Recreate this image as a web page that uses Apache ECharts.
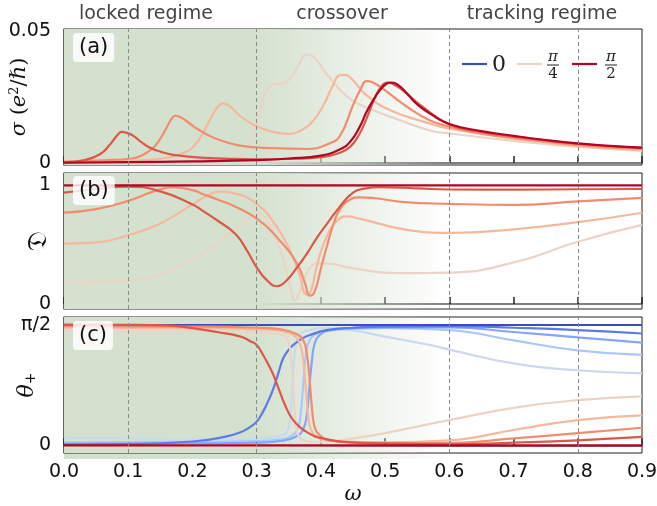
<!DOCTYPE html>
<html>
<head>
<meta charset="utf-8">
<script src="https://cdn.jsdelivr.net/npm/echarts@6/dist/echarts.min.js"></script>
<style>
  html, body { margin: 0; padding: 0; background: #fff; }
  #chart { width: 657px; height: 506px; }
</style>
</head>
<body>
<div id="chart"></div>
<script>
// omega axis ticks, shared by the three panels
var omegaTicks = [0, 0.1, 0.2, 0.3, 0.4, 0.5, 0.6, 0.7, 0.8, 0.9]
var dashedAt = [0.1, 0.3, 0.6, 0.8]
var regimeNames = ['locked regime', 'crossover', 'tracking regime']

// colours along the colormap, phi = 0 ... pi/2
var blueColors = ['#3b4cc0', '#5c7be5', '#83a6fb', '#aac7fd', '#cbd8ee']
var redColors = ['#ebd3c6', '#f6b89d', '#f08d6f', '#d95848', '#b40426']

// (a) sigma, red family only (blue ones lie underneath)
var sigma5 = [[0,0.0001],[0.2,0.0008],[0.24,0.0013],[0.265,0.002],[0.28,0.004],[0.29,0.008],[0.3,0.015],[0.31,0.024],[0.318,0.0285],[0.326,0.0298],[0.341,0.0302],[0.352,0.032],[0.365,0.037],[0.378,0.0411],[0.39,0.04],[0.41,0.0333],[0.445,0.0244],[0.482,0.02],[0.52,0.0165],[0.57,0.0123],[0.6,0.0112],[0.7,0.0084],[0.8,0.0061],[0.9,0.0046]]
var sigma6 = [[0,0.0004],[0.1,0.0008],[0.16,0.002],[0.19,0.0042],[0.2,0.0058],[0.212,0.0095],[0.221,0.0135],[0.232,0.0185],[0.241,0.0218],[0.248,0.0226],[0.258,0.0215],[0.274,0.0178],[0.295,0.0145],[0.315,0.0125],[0.335,0.0113],[0.352,0.011],[0.37,0.0125],[0.388,0.016],[0.404,0.0219],[0.418,0.029],[0.43,0.0333],[0.438,0.0334],[0.448,0.0318],[0.471,0.0257],[0.508,0.02],[0.57,0.0149],[0.6,0.013],[0.7,0.0092],[0.8,0.0065],[0.9,0.005]]
var sigma7 = [[0,0.0005],[0.06,0.001],[0.108,0.0018],[0.125,0.0033],[0.139,0.0058],[0.15,0.0092],[0.16,0.0135],[0.167,0.0165],[0.173,0.0179],[0.18,0.0175],[0.19,0.016],[0.205,0.0133],[0.221,0.011],[0.24,0.0089],[0.274,0.0066],[0.326,0.0056],[0.378,0.0053],[0.414,0.0075],[0.43,0.0104],[0.45,0.0219],[0.462,0.028],[0.471,0.031],[0.48,0.0306],[0.492,0.0289],[0.534,0.0213],[0.57,0.0161],[0.6,0.0138],[0.65,0.0112],[0.7,0.0095],[0.8,0.0069],[0.9,0.0053]]
var sigma8 = [[0,0.0002],[0.03,0.001],[0.056,0.0033],[0.072,0.0071],[0.082,0.0102],[0.09,0.0118],[0.098,0.0114],[0.108,0.0103],[0.12,0.008],[0.134,0.0058],[0.15,0.0043],[0.17,0.0031],[0.213,0.002],[0.3,0.0014],[0.36,0.0016],[0.4,0.0022],[0.425,0.0035],[0.445,0.006],[0.46,0.011],[0.471,0.0168],[0.487,0.0263],[0.497,0.0298],[0.503,0.0305],[0.512,0.0299],[0.524,0.0282],[0.54,0.025],[0.555,0.0219],[0.6,0.0146],[0.65,0.0118],[0.7,0.0101],[0.8,0.0073],[0.9,0.0057]]
var sigma9 = [[0,0.0001],[0.1,0.0003],[0.2,0.0006],[0.3,0.0011],[0.35,0.0017],[0.4,0.0028],[0.43,0.0052],[0.445,0.0079],[0.46,0.0135],[0.471,0.0193],[0.482,0.024],[0.492,0.0276],[0.502,0.03],[0.51,0.0305],[0.52,0.0296],[0.534,0.0263],[0.55,0.0222],[0.57,0.0187],[0.6,0.0148],[0.65,0.0121],[0.7,0.0103],[0.75,0.0087],[0.8,0.0074],[0.85,0.0065],[0.9,0.0058]]

// (b) D, red family
var dee5 = [[0,0.175],[0.1,0.2],[0.15,0.25],[0.2,0.38],[0.24,0.52],[0.27,0.65],[0.29,0.73],[0.3,0.76],[0.31,0.74],[0.325,0.62],[0.34,0.4],[0.352,0.15],[0.36,0.03],[0.368,0.12],[0.38,0.28],[0.395,0.34],[0.41,0.34],[0.45,0.3],[0.52,0.26],[0.6,0.265],[0.7,0.35],[0.8,0.525],[0.9,0.667]]
var dee6 = [[0,0.51],[0.05,0.52],[0.1,0.58],[0.15,0.68],[0.2,0.84],[0.225,0.92],[0.243,0.95],[0.26,0.94],[0.3,0.845],[0.33,0.66],[0.35,0.47],[0.365,0.28],[0.378,0.08],[0.385,0.12],[0.395,0.35],[0.41,0.58],[0.425,0.7],[0.44,0.74],[0.46,0.72],[0.53,0.63],[0.6,0.6],[0.7,0.63],[0.8,0.69],[0.9,0.77]]
var dee7 = [[0,0.77],[0.05,0.8],[0.1,0.87],[0.14,0.95],[0.17,0.985],[0.2,0.96],[0.215,0.93],[0.24,0.88],[0.267,0.82],[0.3,0.72],[0.332,0.56],[0.363,0.34],[0.375,0.18],[0.383,0.07],[0.39,0.1],[0.4,0.3],[0.41,0.5],[0.42,0.68],[0.43,0.8],[0.445,0.88],[0.46,0.9],[0.48,0.895],[0.53,0.86],[0.6,0.845],[0.7,0.836],[0.8,0.865],[0.9,0.896]]
var dee8 = [[0,0.94],[0.05,0.97],[0.1,0.99],[0.15,0.95],[0.2,0.84],[0.215,0.79],[0.24,0.7],[0.267,0.59],[0.285,0.45],[0.3,0.31],[0.316,0.2],[0.332,0.15],[0.345,0.19],[0.363,0.31],[0.38,0.44],[0.394,0.56],[0.41,0.68],[0.425,0.79],[0.45,0.94],[0.47,0.975],[0.49,0.985],[0.55,0.975],[0.6,0.966],[0.7,0.965],[0.8,0.968],[0.9,0.97]]
var dee9 = [[0,1],[0.45,1],[0.9,1]]

// (c) theta_+, blue family (phi = 0 ... ) and red family
var thetaB0 = [[0,1.5708],[0.45,1.5708],[0.9,1.5708]]
var thetaB1 = [[0,0.01],[0.1,0.015],[0.2,0.05],[0.25,0.11],[0.275,0.17],[0.29,0.24],[0.3,0.31],[0.31,0.44],[0.318,0.58],[0.326,0.74],[0.334,0.95],[0.341,1.13],[0.35,1.25],[0.357,1.31],[0.37,1.39],[0.383,1.44],[0.409,1.505],[0.45,1.535],[0.5,1.55],[0.6,1.555],[0.7,1.535],[0.8,1.505],[0.9,1.46]]
var thetaB2 = [[0,0.02],[0.2,0.025],[0.3,0.035],[0.34,0.06],[0.36,0.11],[0.372,0.2],[0.378,0.4],[0.382,0.75],[0.386,1.1],[0.39,1.32],[0.397,1.43],[0.414,1.5],[0.45,1.53],[0.5,1.54],[0.6,1.54],[0.7,1.48],[0.8,1.41],[0.9,1.34]]
var thetaB3 = [[0,0.04],[0.2,0.045],[0.3,0.055],[0.34,0.08],[0.355,0.13],[0.364,0.22],[0.369,0.45],[0.373,0.85],[0.377,1.2],[0.383,1.38],[0.395,1.46],[0.42,1.51],[0.5,1.53],[0.6,1.505],[0.7,1.37],[0.8,1.24],[0.9,1.18]]
var thetaB4 = [[0,0.1],[0.1,0.09],[0.2,0.075],[0.3,0.085],[0.335,0.12],[0.348,0.19],[0.353,0.45],[0.356,0.85],[0.36,1.25],[0.366,1.43],[0.38,1.5],[0.41,1.53],[0.45,1.5],[0.5,1.42],[0.57,1.31],[0.6,1.25],[0.7,1.07],[0.8,0.98],[0.9,0.94]]
var thetaR5 = [[0,1.5],[0.2,1.495],[0.3,1.48],[0.335,1.45],[0.348,1.38],[0.354,1.1],[0.357,0.75],[0.36,0.35],[0.364,0.15],[0.372,0.07],[0.39,0.045],[0.414,0.05],[0.45,0.09],[0.5,0.16],[0.57,0.28],[0.6,0.33],[0.7,0.49],[0.8,0.59],[0.9,0.64]]
var thetaR6 = [[0,1.535],[0.2,1.53],[0.3,1.515],[0.34,1.49],[0.357,1.44],[0.366,1.35],[0.372,1.15],[0.376,0.8],[0.38,0.4],[0.385,0.2],[0.395,0.11],[0.42,0.06],[0.5,0.04],[0.6,0.065],[0.7,0.2],[0.8,0.33],[0.9,0.39]]
var thetaR7 = [[0,1.555],[0.2,1.55],[0.3,1.535],[0.34,1.51],[0.36,1.46],[0.372,1.38],[0.378,1.2],[0.382,0.9],[0.386,0.5],[0.39,0.25],[0.397,0.14],[0.414,0.065],[0.45,0.04],[0.5,0.03],[0.6,0.03],[0.7,0.09],[0.8,0.16],[0.9,0.23]]
var thetaR8 = [[0,1.575],[0.1,1.573],[0.16,1.565],[0.2,1.53],[0.238,1.48],[0.275,1.42],[0.29,1.36],[0.3,1.31],[0.31,1.18],[0.318,1.06],[0.326,0.92],[0.336,0.7],[0.344,0.53],[0.352,0.39],[0.362,0.28],[0.373,0.2],[0.39,0.12],[0.404,0.09],[0.425,0.055],[0.445,0.04],[0.5,0.025],[0.6,0.013],[0.7,0.035],[0.8,0.065],[0.9,0.11]]
var thetaR9 = [[0,0],[0.45,0],[0.9,0]]

var green = 'rgb(213,225,207)'
var greenFade = {
  type: 'linear', x: 0, y: 0, x2: 1, y2: 0,
  colorStops: [
    { offset: 0, color: green },
    { offset: 0.5, color: green },
    { offset: 1, color: 'rgba(213,225,207,0)' }
  ]
}

var tickFont = '"DejaVu Sans", sans-serif'
var mathFont = '"DejaVu Serif", serif'

function curve(data, color, idx) {
  return {
    type: 'line', xAxisIndex: idx, yAxisIndex: idx,
    data: data, symbol: 'none', smooth: 0.5,
    lineStyle: { color: color, width: 2.2 }, itemStyle: { color: color },
    silent: true
  }
}

// shaded regimes plus the dashed guides, one per panel
function backdrop(idx) {
  return {
    type: 'line', xAxisIndex: idx, yAxisIndex: idx, data: [], silent: true,
    markArea: {
      silent: true,
      itemStyle: { color: greenFade },
      data: [[{ xAxis: 0 }, { xAxis: 0.6 }]]
    },
    markLine: {
      silent: true, symbol: 'none', label: { show: false },
      lineStyle: { type: [4, 3], color: '#8a8a8a', width: 1 },
      data: dashedAt.map(function(v) { return { xAxis: v } })
    }
  }
}

function xAxisFor(idx, showLabels) {
  return {
    type: 'value', gridIndex: idx, min: 0, max: 0.9, interval: 0.1,
    axisLine: { lineStyle: { color: '#555', width: 1.5 } },
    axisTick: { inside: true, length: 7, lineStyle: { color: '#222', width: 1.5 } },
    splitLine: { show: false },
    axisLabel: {
      show: showLabels, margin: 10, color: '#111', fontSize: 19, fontFamily: tickFont,
      formatter: function(v) { return v.toFixed(1) }
    },
    name: showLabels ? 'ω' : '',
    nameLocation: 'middle', nameGap: 31, nameMoveOverlap: false,
    nameTextStyle: { fontFamily: mathFont, fontStyle: 'italic', fontSize: 21, color: '#111' }
  }
}

function yAxisFor(idx, min, max, ticks, labels, fmt, name, gap, style) {
  return {
    type: 'value', gridIndex: idx, min: min, max: max,
    axisLine: { lineStyle: { color: '#555', width: 1.5 } },
    axisTick: { inside: true, length: 7, customValues: ticks, lineStyle: { color: '#222', width: 1.5 } },
    splitLine: { show: false },
    axisLabel: { customValues: labels, formatter: fmt, margin: 13, color: '#111', fontSize: 19, fontFamily: tickFont },
    name: name, nameLocation: 'middle', nameRotate: 90, nameGap: gap, nameMoveOverlap: false,
    nameTextStyle: style
  }
}

var series = [backdrop(0), backdrop(1), backdrop(2)]
;[sigma5, sigma6, sigma7, sigma8, sigma9].forEach(function(d, i) { series.push(curve(d, redColors[i], 0)) })
;[dee5, dee6, dee7, dee8, dee9].forEach(function(d, i) { series.push(curve(d, redColors[i], 1)) })
;[thetaB4, thetaB3, thetaB2, thetaB1, thetaB0].forEach(function(d, i) { series.push(curve(d, blueColors[4 - i], 2)) })
;[thetaR5, thetaR6, thetaR7, thetaR8, thetaR9].forEach(function(d, i) { series.push(curve(d, redColors[i], 2)) })

var halfPi = Math.PI / 2

function panelTag(text, x, y) {
  return {
    type: 'text', x: x, y: y, z: 50,
    style: {
      text: text, font: '21px "DejaVu Sans", sans-serif', fill: '#111',
      backgroundColor: 'rgba(255,255,255,0.82)', padding: [4, 6, 4, 6], borderRadius: 4
    }
  }
}

function regimeLabel(text, x) {
  return {
    type: 'text', x: x, y: 14,
    style: { text: text, font: '19px "DejaVu Sans", sans-serif', fill: '#444', textAlign: 'center', textVerticalAlign: 'middle' }
  }
}

function legendLine(x, color) {
  return { type: 'line', z: 50, shape: { x1: x, y1: 64, x2: x + 25, y2: 64 }, style: { stroke: color, lineWidth: 2.2 } }
}

function fraction(num, den, x) {
  return [
    { type: 'text', x: x, y: 57, z: 50, style: { text: num, font: 'italic 15px "DejaVu Serif", serif', fill: '#222', textAlign: 'center', textVerticalAlign: 'middle' } },
    { type: 'line', z: 50, shape: { x1: x - 6, y1: 65, x2: x + 6, y2: 65 }, style: { stroke: '#222', lineWidth: 1 } },
    { type: 'text', x: x, y: 74, z: 50, style: { text: den, font: '15px "DejaVu Serif", serif', fill: '#222', textAlign: 'center', textVerticalAlign: 'middle' } }
  ]
}

var graphics = [
  regimeLabel(regimeNames[0], 146),
  regimeLabel(regimeNames[1], 342),
  regimeLabel(regimeNames[2], 542),
  panelTag('(a)', 73, 33),
  panelTag('(b)', 73, 176),
  panelTag('(c)', 73, 321),
  { type: 'rect', z: -1, shape: { x: 64, y: 453, width: 385, height: 6 }, style: { fill: greenFade } },
  legendLine(462, blueColors[0]),
  { type: 'text', x: 499, y: 65, z: 50, style: { text: '0', font: '22px "DejaVu Serif", serif', fill: '#222', textAlign: 'center', textVerticalAlign: 'middle' } },
  legendLine(517, '#e8d5ca'),
  legendLine(572, redColors[4])
].concat(fraction('π', '4', 553)).concat(fraction('π', '2', 611))

function panelGrid(top) {
  return {
    left: 64, right: 15, top: top, height: 136, containLabel: false, outerBoundsMode: 'none',
    show: true, borderColor: '#222', borderWidth: 1, backgroundColor: 'transparent'
  }
}

var chart = echarts.init(document.getElementById('chart'), null, { renderer: 'canvas' })
chart.setOption({
  animation: false,
  backgroundColor: '#fff',
  grid: [panelGrid(29), panelGrid(173), panelGrid(317)],
  xAxis: [xAxisFor(0, false), xAxisFor(1, false), xAxisFor(2, true)],
  yAxis: [
    yAxisFor(0, -0.00076, 0.05076, [0, 0.025, 0.05], [0, 0.05],
      function(v) { return v === 0 ? '0' : '0.05' },
      '{i|σ} ({i|e}{s|2}/{i|ℏ})', 33,
      { fontFamily: mathFont, fontSize: 21, color: '#111',
        rich: { i: { fontStyle: 'italic', fontFamily: mathFont, fontSize: 21, color: '#111' }, s: { fontSize: 13, fontFamily: mathFont, color: '#111', padding: [0, 0, 10, 0] } } }),
    yAxisFor(1, -0.042, 1.105, [0, 0.5, 1], [0, 1],
      function(v) { return v === 0 ? '0' : '1' },
      '𝔇', 12,
      { fontFamily: mathFont, fontSize: 27, color: '#111' }),
    yAxisFor(2, -0.1, 1.6755, [0, Math.PI / 4, halfPi], [0, halfPi],
      function(v) { return v === 0 ? '0' : 'π/2' },
      '{i|θ}{s|+}', 26,
      { fontFamily: mathFont, fontSize: 22, color: '#111',
        rich: { i: { fontStyle: 'italic', fontFamily: mathFont, fontSize: 22, color: '#111' }, s: { fontSize: 14, fontFamily: mathFont, color: '#111', padding: [8, 0, 0, 0] } } })
  ],
  series: series,
  graphic: graphics
})
</script>
</body>
</html>
